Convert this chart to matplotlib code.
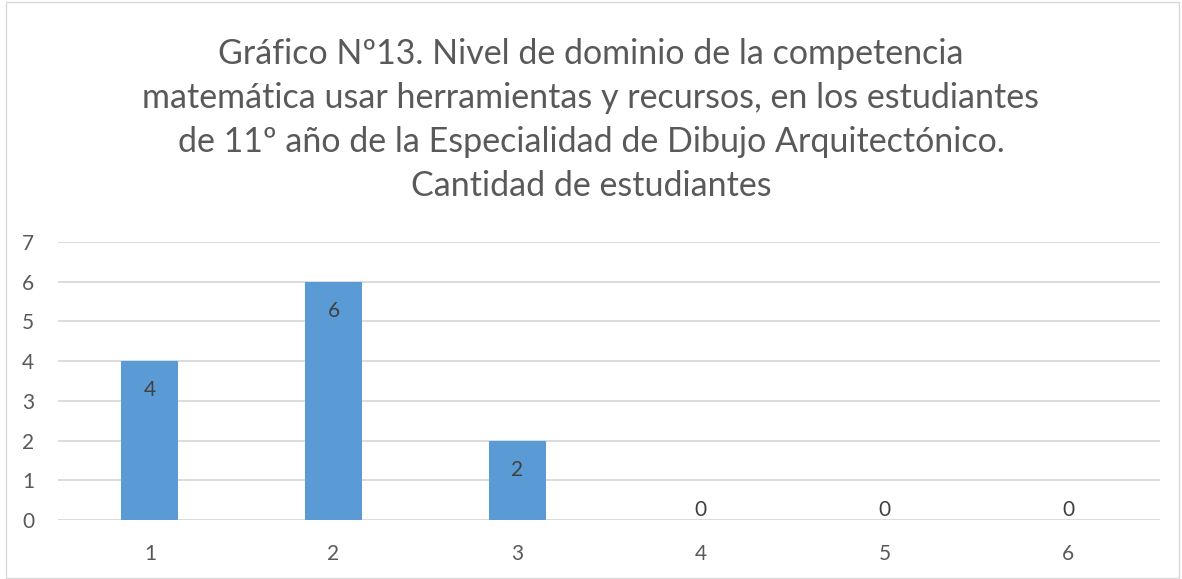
import matplotlib
matplotlib.use("Agg")
import matplotlib.pyplot as plt
from matplotlib.patches import Rectangle

categories = ["1", "2", "3", "4", "5", "6"]
values = [4, 6, 2, 0, 0, 0]
yticks = [0, 1, 2, 3, 4, 5, 6, 7]
title = ("Gráfico Nº13. Nivel de dominio de la competencia\n"
         "matemática usar herramientas y recursos, en los estudiantes\n"
         "de 11º año de la Especialidad de Dibujo Arquitectónico.\n"
         "Cantidad de estudiantes")

plt.rcParams['font.family'] = ['Lato', 'DejaVu Sans']
W, H = 1182, 579
fig = plt.figure(figsize=(W/100, H/100), dpi=100)
fig.patch.set_facecolor('white')
fig.add_artist(Rectangle((6/W, 1/H), (1179-6)/W, (577-1)/H, transform=fig.transFigure,
                         fill=False, edgecolor='#D9D9D9', linewidth=1))

left, right = 58/W, 1160/W
bottom, top = 1 - 520/H, 1 - 242/H
ax = fig.add_axes([left, bottom, right-left, top-bottom])
x = list(range(len(categories)))
ax.bar(x, values, width=0.31, color='#5B9BD5', zorder=3)
ax.set_xlim(-0.5, len(categories)-0.5)
ax.set_ylim(0, 7)
ax.set_yticks(yticks)
ax.set_yticklabels([str(t) for t in yticks])
ax.set_xticks(x)
ax.set_xticklabels(categories)
ax.grid(axis='y', color='#D9D9D9', linewidth=1.3, zorder=0)
for s in ax.spines.values():
    s.set_visible(False)
ax.tick_params(axis='both', length=0, labelsize=15, colors='#595959')
ax.tick_params(axis='y', pad=17)
ax.tick_params(axis='x', pad=17)

for xi, v in zip(x, values):
    if v > 0:
        ax.annotate(str(v), (xi, v), xytext=(0, -21), textcoords='offset points',
                    ha='center', va='center', fontsize=15, color='#404040', zorder=4)
    else:
        ax.annotate(str(v), (xi, v), xytext=(0, 7.5), textcoords='offset points',
                    ha='center', va='center', fontsize=15, color='#404040', zorder=4)

fig.text(0.5, 1 - 120/H, title, ha='center', va='center', fontsize=24.5,
         color='#595959', linespacing=1.46)

fig.savefig("out.png", dpi=100)
